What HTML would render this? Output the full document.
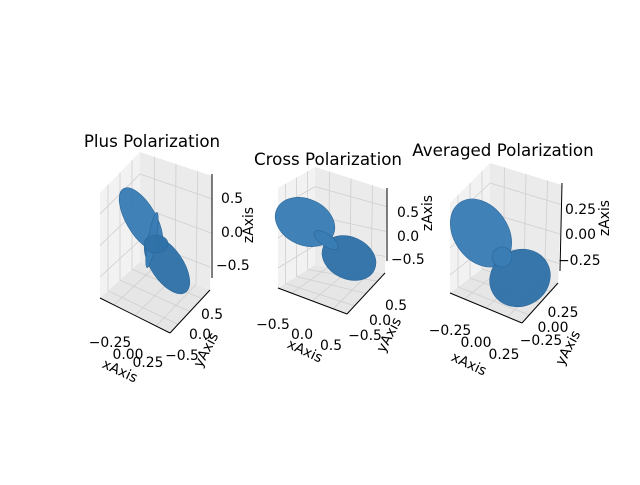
<!DOCTYPE html>
<html><head><meta charset="utf-8"><style>
body{margin:0;background:#fff}
svg text{font-family:"DejaVu Sans","Liberation Sans",sans-serif;fill:#000}
</style></head><body>
<svg id="fig" width="640" height="480" viewBox="0 0 640 480" xmlns="http://www.w3.org/2000/svg">
<rect width="640" height="480" fill="#fff"/>
</svg>
<script>
const titles = ["Plus Polarization","Cross Polarization","Averaged Polarization"];
const xTicks = [["−0.25","0.00","0.25"],["−0.5","0.0","0.5"],["−0.25","0.00","0.25"]];
const yTicks = [["0.5","0.0","−0.5"],["0.5","0.0","−0.5"],["0.25","0.00","−0.25"]];
const zTicks = [["0.5","0.0","−0.5"],["0.5","0.0","−0.5"],["0.25","0.00","−0.25"]];
// lobes: [cx, cy, rx, ry, rotation]
const lobes = [
 [[141,219,35,15,60],[167,265,33,16,56],[152,240,28,4,-80],[156,244,12,9,0]],
 [[305,222,31,23,25],[349,258,28,21,25],[326,240,14,6,35]],
 [[481,233,27,37,-35],[520,278,31,28,-30],[502,257,10,10,0]]
];
const NS="http://www.w3.org/2000/svg";
const svg=document.getElementById('fig');
function el(t,a,p){const e=document.createElementNS(NS,t);for(const k in a)e.setAttribute(k,a[k]);(p||svg).appendChild(e);return e;}
const boxes=[
 {A:[100,193],B:[140,152],C:[212,176],D:[100,298],E:[140,262],F:[210,290],G:[170,333],title:[152,141],
  zl:[[221,198],[221,232],[216,265]],zlab:[248,225],
  yl:[[212,314],[200,334],[182,355]],ylab:[210,352],
  xl:[[110,342],[128,354],[148,362]],xlab:[118,375]},
 {A:[278,188],B:[315,167],C:[387,190],D:[278,288],E:[315,265],F:[385,273],G:[347,314],title:[328,159],
  zl:[[397,212],[397,236],[391,259]],zlab:[427,213],
  yl:[[396,305],[380,320],[365,335]],ylab:[393,337],
  xl:[[273,324],[302,334],[331,345]],xlab:[303,355]},
 {A:[450,203],B:[490,163],C:[562,185],D:[450,293],E:[490,263],F:[558,283],G:[522,323],title:[503,150],
  zl:[[565,209],[565,234],[558,260]],zlab:[604,218],
  yl:[[563,312],[553,327],[541,340]],ylab:[572,350],
  xl:[[450,330],[476,342],[504,354]],xlab:[467,368]}
];
function lerp(p,q,t){return [p[0]+(q[0]-p[0])*t,p[1]+(q[1]-p[1])*t];}
boxes.forEach((b,i)=>{
 const g=el('g',{});
 
 
 const poly=(pts,fill)=>el('polygon',{points:pts.map(p=>p.join(',')).join(' '),fill:fill,stroke:'none'},g);
 const lp=poly([b.A,b.B,b.E,b.D],'#f2f2f2');
 const rp=poly([b.B,b.C,b.F,b.E],'#ebebeb');
 const fp=poly([b.D,b.E,b.F,b.G],'#e6e6e6');
 const line=(p,q,c,w)=>el('line',{x1:p[0],y1:p[1],x2:q[0],y2:q[1],stroke:c,'stroke-width':w},g);
 const gc='#cfcfcf';
 [0.2,0.5,0.8].forEach(t=>{
  line(lerp(b.A,b.B,t),lerp(b.D,b.E,t),gc,0.8);
  line(lerp(b.B,b.C,t),lerp(b.E,b.F,t),gc,0.8);
  line(lerp(b.A,b.D,t),lerp(b.B,b.E,t),gc,0.8);
  line(lerp(b.B,b.E,t),lerp(b.C,b.F,t),gc,0.8);
  line(lerp(b.D,b.E,t),lerp(b.G,b.F,t),gc,0.8);
  line(lerp(b.E,b.F,t),lerp(b.D,b.G,t),gc,0.8);
 });
 line(b.D,b.G,'#000',1); line(b.G,b.F,'#000',1);
 const zTop=[b.C[0],b.C[1]-2], zBot=[b.F[0]+2,b.F[1]-12];
 line(zTop,zBot,'#000',1);
 lobes[i].forEach((L,k)=>{
  const e=el('ellipse',{cx:L[0],cy:L[1],rx:L[2],ry:L[3],transform:`rotate(${L[4]} ${L[0]} ${L[1]})`,fill:k%2?'#2f72a8':'#3a7db5',stroke:'#2a6699','stroke-width':0.6,'fill-opacity':0.97},g);
  
  
 });
 const txt=(s,p,size,anchor,rot)=>{const t=el('text',{x:p[0],y:p[1],'font-size':size,'text-anchor':anchor},g);if(rot)t.setAttribute('transform',`rotate(${rot} ${p[0]} ${p[1]})`);t.textContent=s;return t;};
 const tt=txt(titles[i],[b.title[0],b.title[1]+6],16.7,'middle');
 
 zTicks[i].forEach((s,k)=>{const t=txt(s,[b.zl[k][0],b.zl[k][1]+5],13.9,'start');});
 yTicks[i].forEach((s,k)=>{const t=txt(s,[b.yl[k][0],b.yl[k][1]+5],13.9,'middle');});
 xTicks[i].forEach((s,k)=>{const t=txt(s,[b.xl[k][0],b.xl[k][1]+5],13.9,'middle');});
 const zl=txt('zAxis',[b.zlab[0]+5,b.zlab[1]],13.9,'middle',-90);
 const yl=txt('yAxis',[b.ylab[0],b.ylab[1]],13.9,'middle',-62);
 const xl=txt('xAxis',[b.xlab[0],b.xlab[1]],13.9,'middle',25);
});
</script>
</body></html>
